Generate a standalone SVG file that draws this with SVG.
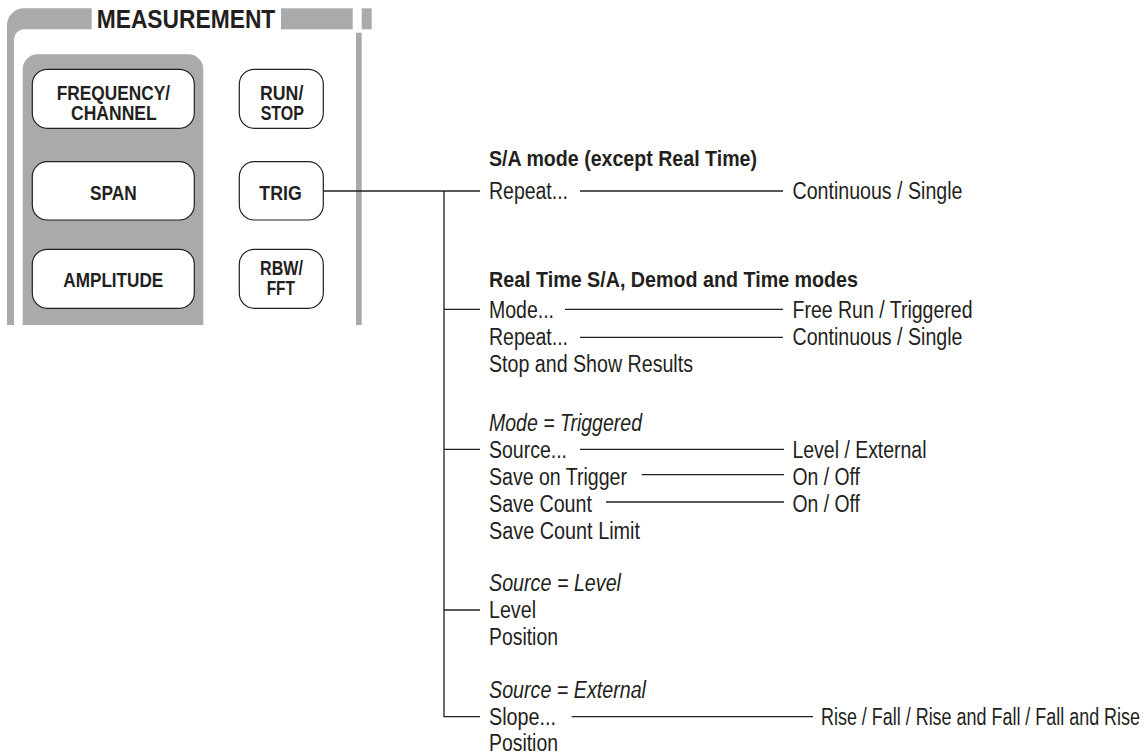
<svg xmlns="http://www.w3.org/2000/svg" width="1147" height="754" viewBox="0 0 1147 754">
<style>
.bg{fill:#ffffff}
.frame{fill:#a9aaac}
.btn{fill:#ffffff;stroke:#231f20;stroke-width:1.2}
.bt{font-family:"Liberation Sans",Arial,sans-serif;font-weight:bold;font-size:20px;fill:#231f20}
.title{font-family:"Liberation Sans",Arial,sans-serif;font-weight:bold;font-size:25px;fill:#231f20}
.t{font-family:"Liberation Sans",Arial,sans-serif;font-size:23px;fill:#231f20}
.h{font-family:"Liberation Sans",Arial,sans-serif;font-size:22px;font-weight:bold;fill:#231f20}
.i{font-family:"Liberation Sans",Arial,sans-serif;font-size:23px;font-style:italic;fill:#231f20}
.ln{stroke:#231f20;stroke-width:1.3;fill:none}
</style>
<rect class="bg" x="0" y="0" width="1147" height="754"/>
<g id="panel">
  <path class="frame" d="M7 325 V25 A17 17 0 0 1 24 8.3 H91.7 V29.3 H24 A10 10 0 0 0 14 39.3 V325 Z"/>
  <rect class="frame" x="281" y="8.3" width="71.7" height="21"/>
  <rect class="frame" x="361.7" y="8.3" width="10" height="21"/>
  <rect class="frame" x="356" y="32.7" width="5.7" height="292.3"/>
  <text class="title" x="96.7" y="28.3" textLength="178.6" lengthAdjust="spacingAndGlyphs">MEASUREMENT</text>
  <path class="frame" d="M22.7 325 V69.3 A15 15 0 0 1 37.7 54.3 H188.3 A15 15 0 0 1 203.3 69.3 V325 Z"/>
</g>
<g id="btn-frequency">
  <rect class="btn" x="32.3" y="69.3" width="162" height="59" rx="15"/>
  <text class="bt" x="56.7" y="100" textLength="113.3" lengthAdjust="spacingAndGlyphs">FREQUENCY/</text>
  <text class="bt" x="71" y="120" textLength="85.7" lengthAdjust="spacingAndGlyphs">CHANNEL</text>
</g>
<g id="btn-span">
  <rect class="btn" x="32.3" y="161.7" width="162" height="58.3" rx="15"/>
  <text class="bt" x="90" y="200" textLength="46.7" lengthAdjust="spacingAndGlyphs">SPAN</text>
</g>
<g id="btn-amplitude">
  <rect class="btn" x="32.3" y="249.3" width="162" height="59" rx="15"/>
  <text class="bt" x="63.3" y="286.7" textLength="100" lengthAdjust="spacingAndGlyphs">AMPLITUDE</text>
</g>
<g id="btn-runstop">
  <rect class="btn" x="239.3" y="69.3" width="84" height="59" rx="15"/>
  <text class="bt" x="260" y="100" textLength="43.3" lengthAdjust="spacingAndGlyphs">RUN/</text>
  <text class="bt" x="260.7" y="120" textLength="43.3" lengthAdjust="spacingAndGlyphs">STOP</text>
</g>
<g id="btn-trig">
  <rect class="btn" x="239.3" y="161.7" width="84" height="58.3" rx="15"/>
  <text class="bt" x="259.3" y="200" textLength="42.4" lengthAdjust="spacingAndGlyphs">TRIG</text>
</g>
<g id="btn-rbw">
  <rect class="btn" x="239.3" y="249.3" width="84" height="59" rx="15"/>
  <text class="bt" x="260" y="275" textLength="43" lengthAdjust="spacingAndGlyphs">RBW/</text>
  <text class="bt" x="266.7" y="295" textLength="28.3" lengthAdjust="spacingAndGlyphs">FFT</text>
</g>
<g id="connectors">
  <path class="ln" d="M323.3 191 H480"/>
  <path class="ln" d="M444 191 V716.7 H480"/>
  <path class="ln" d="M444 309.3 H480"/>
  <path class="ln" d="M444 449.3 H480"/>
  <path class="ln" d="M444 610 H480"/>
  <path class="ln" d="M580 191 H783"/>
  <path class="ln" d="M565 309.3 H783"/>
  <path class="ln" d="M580 337.3 H783"/>
  <path class="ln" d="M580 449.3 H784"/>
  <path class="ln" d="M641.7 474.7 H784"/>
  <path class="ln" d="M606 502 H784"/>
  <path class="ln" d="M571.7 716.7 H813"/>
</g>
<g id="sa-mode">
  <text class="h" x="489" y="166" textLength="268" lengthAdjust="spacingAndGlyphs">S/A mode (except Real Time)</text>
  <text class="t" x="489" y="199" textLength="79" lengthAdjust="spacingAndGlyphs">Repeat...</text>
  <text class="t" x="792.5" y="199" textLength="170" lengthAdjust="spacingAndGlyphs">Continuous / Single</text>
</g>
<g id="realtime-mode">
  <text class="h" x="489" y="286.5" textLength="369" lengthAdjust="spacingAndGlyphs">Real Time S/A, Demod and Time modes</text>
  <text class="t" x="489" y="318" textLength="65" lengthAdjust="spacingAndGlyphs">Mode...</text>
  <text class="t" x="792.5" y="318" textLength="180" lengthAdjust="spacingAndGlyphs">Free Run / Triggered</text>
  <text class="t" x="489" y="345" textLength="79" lengthAdjust="spacingAndGlyphs">Repeat...</text>
  <text class="t" x="792.5" y="345" textLength="170" lengthAdjust="spacingAndGlyphs">Continuous / Single</text>
  <text class="t" x="489" y="372" textLength="204" lengthAdjust="spacingAndGlyphs">Stop and Show Results</text>
</g>
<g id="mode-triggered">
  <text class="i" x="489" y="431" textLength="153" lengthAdjust="spacingAndGlyphs">Mode = Triggered</text>
  <text class="t" x="489" y="458" textLength="78" lengthAdjust="spacingAndGlyphs">Source...</text>
  <text class="t" x="792.5" y="458" textLength="134" lengthAdjust="spacingAndGlyphs">Level / External</text>
  <text class="t" x="489" y="485" textLength="138" lengthAdjust="spacingAndGlyphs">Save on Trigger</text>
  <text class="t" x="792.5" y="485" textLength="67.5" lengthAdjust="spacingAndGlyphs">On / Off</text>
  <text class="t" x="489" y="512" textLength="103" lengthAdjust="spacingAndGlyphs">Save Count</text>
  <text class="t" x="792.5" y="512" textLength="67.5" lengthAdjust="spacingAndGlyphs">On / Off</text>
  <text class="t" x="489" y="538.5" textLength="151" lengthAdjust="spacingAndGlyphs">Save Count Limit</text>
</g>
<g id="source-level">
  <text class="i" x="489" y="591" textLength="132" lengthAdjust="spacingAndGlyphs">Source = Level</text>
  <text class="t" x="489" y="618" textLength="47" lengthAdjust="spacingAndGlyphs">Level</text>
  <text class="t" x="489" y="645" textLength="69" lengthAdjust="spacingAndGlyphs">Position</text>
</g>
<g id="source-external">
  <text class="i" x="489" y="697.5" textLength="157" lengthAdjust="spacingAndGlyphs">Source = External</text>
  <text class="t" x="489" y="724.5" textLength="67" lengthAdjust="spacingAndGlyphs">Slope...</text>
  <text class="t" x="821" y="724.5" textLength="319" lengthAdjust="spacingAndGlyphs">Rise / Fall / Rise and Fall / Fall and Rise</text>
  <text class="t" x="489" y="751" textLength="69" lengthAdjust="spacingAndGlyphs">Position</text>
</g>
</svg>
